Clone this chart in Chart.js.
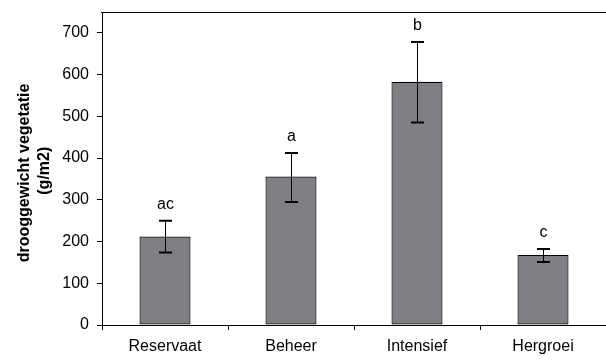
<!DOCTYPE html>
<html>
<head>
<meta charset="utf-8">
<script src="https://cdn.jsdelivr.net/npm/chart.js@4"></script>
<style>
  body { margin: 0; background: #fff; }
  #wrap { width: 606px; height: 360px; }
</style>
</head>
<body>
<div id="wrap"><canvas id="chart" width="606" height="360"></canvas></div>
<script>
// gegevens
const categories = ['Reservaat', 'Beheer', 'Intensief', 'Hergroei'];
const biomass = [212, 356, 583, 168];
const errLow = [174, 295, 485, 151];
const errHigh = [250, 412, 678, 182];
const letters = ['ac', 'a', 'b', 'c'];
const yTicks = [0, 100, 200, 300, 400, 500, 600, 700];

// bovenrand, foutbalken en letters boven de balken
const errorBars = {
  id: 'errorBars',
  afterDraw(chart) {
    const ctx = chart.ctx;
    const y = chart.scales.y;
    const meta = chart.getDatasetMeta(0);
    ctx.save();

    // bovenrand van het plotvlak
    const yTop = Math.round(y.getPixelForValue(y.max));
    ctx.fillStyle = '#000';
    ctx.fillRect(y.right - 1, yTop, chart.width - y.right + 1, 1);

    meta.data.forEach((bar, i) => {
      const x = Math.round(bar.x) + 0.5;
      const top = y.getPixelForValue(errHigh[i]);
      const bottom = y.getPixelForValue(errLow[i]);
      ctx.strokeStyle = '#000';
      ctx.lineWidth = 1;
      ctx.beginPath();
      ctx.moveTo(x, top);
      ctx.lineTo(x, bottom);
      ctx.stroke();
      ctx.lineWidth = 2;
      ctx.beginPath();
      ctx.moveTo(x - 6.5, top);
      ctx.lineTo(x + 6.5, top);
      ctx.moveTo(x - 6.5, bottom);
      ctx.lineTo(x + 6.5, bottom);
      ctx.stroke();

      ctx.fillStyle = '#000';
      ctx.font = '16px "Liberation Sans", Arial, sans-serif';
      ctx.textAlign = 'center';
      ctx.textBaseline = 'alphabetic';
      ctx.fillText(letters[i], x, top - 12);
    });
    ctx.restore();
  }
};

new Chart(document.getElementById('chart'), {
  type: 'bar',
  data: {
    labels: categories,
    datasets: [{
      data: biomass,
      backgroundColor: '#7f8085',
      borderColor: '#000',
      borderWidth: 1.2,
      borderSkipped: false,
      categoryPercentage: 1,
      barPercentage: 0.405
    }]
  },
  options: {
    responsive: false,
    animation: false,
    layout: { padding: { top: 12, right: 0, left: 0, bottom: 0 } },
    plugins: {
      legend: { display: false },
      tooltip: { enabled: false }
    },
    scales: {
      x: {
        afterFit(scale) {
          scale.height = 35;
          scale.paddingLeft = 0;
          scale.paddingRight = 0;
        },
        grid: {
          offset: true,
          drawOnChartArea: false,
          drawTicks: true,
          tickLength: 5,
          color: '#000'
        },
        border: { display: true, color: '#000', width: 1 },
        ticks: {
          color: '#000',
          padding: 7,
          font: { family: '"Liberation Sans", Arial, sans-serif', size: 16 }
        }
      },
      y: {
        min: 0,
        max: 750,
        afterFit(scale) {
          scale.width = 102;
          scale.paddingTop = 0;
          scale.paddingBottom = 0;
        },
        afterBuildTicks(scale) {
          scale.ticks = yTicks.map(v => ({ value: v }));
        },
        grid: {
          drawOnChartArea: false,
          drawTicks: true,
          tickLength: 5,
          color: '#000'
        },
        border: { display: true, color: '#000', width: 1 },
        ticks: {
          color: '#000',
          padding: 8,
          font: { family: '"Liberation Sans", Arial, sans-serif', size: 16 }
        },
        title: {
          display: true,
          text: ['drooggewicht vegetatie  ', '(g/m2) '],
          color: '#000',
          padding: { top: 15, bottom: 0 },
          font: { family: '"Liberation Sans", Arial, sans-serif', size: 16, weight: 'bold', lineHeight: 1.25 }
        }
      }
    }
  },
  plugins: [errorBars]
});
</script>
</body>
</html>
